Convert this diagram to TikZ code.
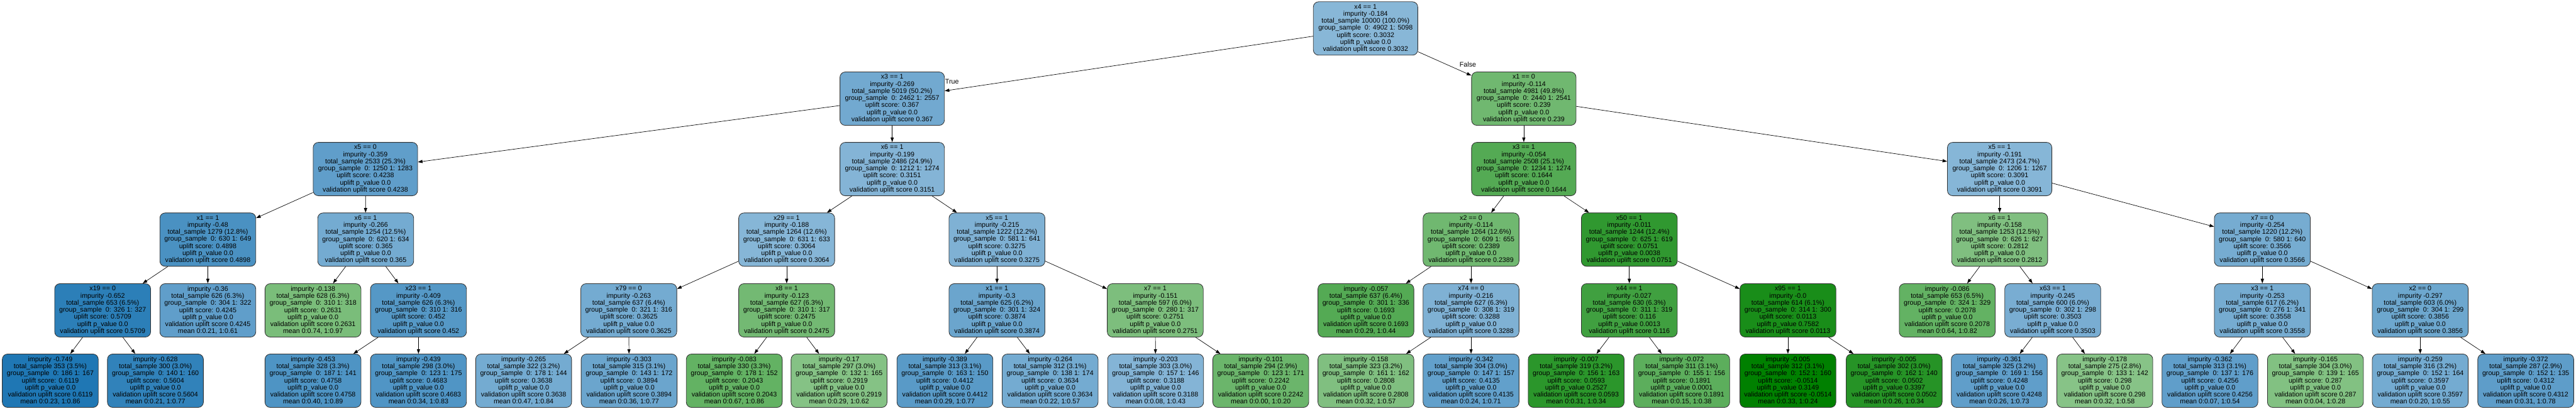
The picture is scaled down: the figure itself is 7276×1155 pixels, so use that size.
\documentclass[tikz,border=0pt]{standalone}
\usepackage{fontspec}
\setmainfont{Liberation Sans}
\usetikzlibrary{arrows.meta}
\definecolor{tb}{RGB}{31,119,180}
\definecolor{tg}{RGB}{0,128,0}
\newcommand\txI[7]{#1\\impurity #2\\total\_sample #3\\group\_sample~ 0: #4 1: #5\\uplift score: #6\\uplift p\_value #7\\validation uplift score #6}
\newcommand\txL[7]{impurity #1\\total\_sample #2\\group\_sample~ 0: #3 1: #4\\uplift score: #5\\uplift p\_value #6\\validation uplift score #5\\mean #7}
\tikzset{
  tn/.style={draw=black!80, line width=1.5pt, rounded corners=15pt, align=center,
    inner sep=2pt, minimum height=151pt, font=\fontsize{19}{20}\selectfont},
  wide/.style={tn, minimum width=295pt},
  narrow/.style={tn, minimum width=271pt},
  arr/.style={line width=1.2pt, -{Triangle[length=13pt,width=9pt]}},
  lbl/.style={font=\fontsize{19}{20}\selectfont, inner sep=0pt}
}
\begin{document}
\begin{tikzpicture}[x=1pt,y=-1pt]
\useasboundingbox[fill=white] (0,0) rectangle (7276,1155);
% level 0
\node[wide, fill=tb!53] (r) at (3857,80.5) {\txI{x4 == 1}{-0.184}{10000 (100.0\%)}{4902}{5098}{0.3032}{0.0}};
% level 1
\node[wide, fill=tb!63] (A) at (2520,279) {\txI{x3 == 1}{-0.269}{5019 (50.2\%)}{2462}{2557}{0.367}{0.0}};
\node[wide, fill=tg!56] (B) at (4304,279) {\txI{x1 == 0}{-0.114}{4981 (49.8\%)}{2440}{2541}{0.239}{0.0}};
% level 2
\node[wide, fill=tb!71] (AA) at (1032,478) {\txI{x5 == 0}{-0.359}{2533 (25.3\%)}{1250}{1283}{0.4238}{0.0}};
\node[wide, fill=tb!55] (AB) at (2520,478) {\txI{x6 == 1}{-0.199}{2486 (24.9\%)}{1212}{1274}{0.3151}{0.0}};
\node[wide, fill=tg!67] (BA) at (4304,478) {\txI{x3 == 1}{-0.054}{2508 (25.1\%)}{1234}{1274}{0.1644}{0.0}};
\node[wide, fill=tb!54] (BB) at (5648,478) {\txI{x5 == 1}{-0.191}{2473 (24.7\%)}{1206}{1267}{0.3091}{0.0}};
% level 3
\node[narrow, fill=tb!81] (AAA) at (587,677.5) {\txI{x1 == 1}{-0.48}{1279 (12.8\%)}{630}{649}{0.4898}{0.0}};
\node[narrow, fill=tb!62] (AAB) at (1033,677.5) {\txI{x6 == 1}{-0.266}{1254 (12.5\%)}{620}{634}{0.365}{0.0}};
\node[narrow, fill=tb!54] (ABA) at (2222,677.5) {\txI{x29 == 1}{-0.188}{1264 (12.6\%)}{631}{633}{0.3064}{0.0}};
\node[narrow, fill=tb!57] (ABB) at (2816,677.5) {\txI{x5 == 1}{-0.215}{1222 (12.2\%)}{581}{641}{0.3275}{0.0}};
\node[narrow, fill=tg!56] (BAA) at (4155,677.5) {\txI{x2 == 0}{-0.114}{1264 (12.6\%)}{609}{655}{0.2389}{0.0}};
\node[narrow, fill=tg!81] (BAB) at (4602,677.5) {\txI{x50 == 1}{-0.011}{1244 (12.4\%)}{625}{619}{0.0751}{0.0038}};
\node[narrow, fill=tg!50] (BBA) at (5648,677.5) {\txI{x6 == 1}{-0.158}{1253 (12.5\%)}{626}{627}{0.2812}{0.0}};
\node[narrow, fill=tb!61] (BBB) at (6390,677.5) {\txI{x7 == 0}{-0.254}{1220 (12.2\%)}{580}{640}{0.3566}{0.0}};
% level 4
\node[narrow, fill=tb!94] (c1) at (290,877.5) {\txI{x19 == 0}{-0.652}{653 (6.5\%)}{326}{327}{0.5709}{0.0}};
\node[narrow, fill=tb!71] (c2) at (587,877.5) {\txL{-0.36}{626 (6.3\%)}{304}{322}{0.4245}{0.0}{0:0.21, 1:0.61}};
\node[narrow, fill=tg!52] (c3) at (884,877.5) {\txL{-0.138}{628 (6.3\%)}{310}{318}{0.2631}{0.0}{0:0.74, 1:0.97}};
\node[narrow, fill=tb!76] (c4) at (1182,877.5) {\txI{x23 == 1}{-0.409}{626 (6.3\%)}{310}{316}{0.452}{0.0}};
\node[narrow, fill=tb!62] (c5) at (1776,877.5) {\txI{x79 == 0}{-0.263}{637 (6.4\%)}{321}{316}{0.3625}{0.0}};
\node[narrow, fill=tg!55] (c6) at (2222,877.5) {\txI{x8 == 1}{-0.123}{627 (6.3\%)}{310}{317}{0.2475}{0.0}};
\node[narrow, fill=tb!66] (c7) at (2816,877.5) {\txI{x1 == 1}{-0.3}{625 (6.2\%)}{301}{324}{0.3874}{0.0}};
\node[narrow, fill=tg!51] (c8) at (3263,877.5) {\txI{x7 == 1}{-0.151}{597 (6.0\%)}{280}{317}{0.2751}{0.0}};
\node[narrow, fill=tg!67] (c9) at (3858,877.5) {\txL{-0.057}{637 (6.4\%)}{301}{336}{0.1693}{0.0}{0:0.29, 1:0.44}};
\node[narrow, fill=tb!57] (c10) at (4155,877.5) {\txI{x74 == 0}{-0.216}{627 (6.3\%)}{308}{319}{0.3288}{0.0}};
\node[narrow, fill=tg!75] (c11) at (4602,877.5) {\txI{x44 == 1}{-0.027}{630 (6.3\%)}{311}{319}{0.116}{0.0013}};
\node[narrow, fill=tg!90] (c12) at (5050,877.5) {\txI{x95 == 1}{-0.0}{614 (6.1\%)}{314}{300}{0.0113}{0.7582}};
\node[narrow, fill=tg!61] (c13) at (5500,877.5) {\txL{-0.086}{653 (6.5\%)}{324}{329}{0.2078}{0.0}{0:0.64, 1:0.82}};
\node[narrow, fill=tb!60] (c14) at (5798,877.5) {\txI{x63 == 1}{-0.245}{600 (6.0\%)}{302}{298}{0.3503}{0.0}};
\node[narrow, fill=tb!61] (c15) at (6390,877.5) {\txI{x3 == 1}{-0.253}{617 (6.2\%)}{276}{341}{0.3558}{0.0}};
\node[narrow, fill=tb!65] (c16) at (6836,877.5) {\txI{x2 == 0}{-0.297}{603 (6.0\%)}{304}{299}{0.3856}{0.0}};
% level 5
\node[narrow, fill=tb!100] (d1) at (142,1076.5) {\txL{-0.749}{353 (3.5\%)}{186}{167}{0.6119}{0.0}{0:0.23, 1:0.86}};
\node[narrow, fill=tb!92] (d2) at (439,1076.5) {\txL{-0.628}{300 (3.0\%)}{140}{160}{0.5604}{0.0}{0:0.21, 1:0.77}};
\node[narrow, fill=tb!79] (d3) at (884,1076.5) {\txL{-0.453}{328 (3.3\%)}{187}{141}{0.4758}{0.0}{0:0.40, 1:0.89}};
\node[narrow, fill=tb!78] (d4) at (1182,1076.5) {\txL{-0.439}{298 (3.0\%)}{123}{175}{0.4683}{0.0}{0:0.34, 1:0.83}};
\node[narrow, fill=tb!62] (d5) at (1479,1076.5) {\txL{-0.265}{322 (3.2\%)}{178}{144}{0.3638}{0.0}{0:0.47, 1:0.84}};
\node[narrow, fill=tb!66] (d6) at (1777,1076.5) {\txL{-0.303}{315 (3.1\%)}{143}{172}{0.3894}{0.0}{0:0.36, 1:0.77}};
\node[narrow, fill=tg!61] (d7) at (2074,1076.5) {\txL{-0.083}{330 (3.3\%)}{178}{152}{0.2043}{0.0}{0:0.67, 1:0.86}};
\node[narrow, fill=tg!48] (d8) at (2370,1076.5) {\txL{-0.17}{297 (3.0\%)}{132}{165}{0.2919}{0.0}{0:0.29, 1:0.62}};
\node[narrow, fill=tb!74] (d9) at (2669,1076.5) {\txL{-0.389}{313 (3.1\%)}{163}{150}{0.4412}{0.0}{0:0.29, 1:0.77}};
\node[narrow, fill=tb!62] (d10) at (2966,1076.5) {\txL{-0.264}{312 (3.1\%)}{138}{174}{0.3634}{0.0}{0:0.22, 1:0.57}};
\node[narrow, fill=tb!55] (d11) at (3264,1076.5) {\txL{-0.203}{303 (3.0\%)}{157}{146}{0.3188}{0.0}{0:0.08, 1:0.43}};
\node[narrow, fill=tg!58] (d12) at (3561,1076.5) {\txL{-0.101}{294 (2.9\%)}{123}{171}{0.2242}{0.0}{0:0.00, 1:0.20}};
\node[narrow, fill=tg!50] (d13) at (3858,1076.5) {\txL{-0.158}{323 (3.2\%)}{161}{162}{0.2808}{0.0}{0:0.32, 1:0.57}};
\node[narrow, fill=tb!70] (d14) at (4155,1076.5) {\txL{-0.342}{304 (3.0\%)}{147}{157}{0.4135}{0.0}{0:0.24, 1:0.71}};
\node[narrow, fill=tg!83] (d15) at (4452,1076.5) {\txL{-0.007}{319 (3.2\%)}{156}{163}{0.0593}{0.2527}{0:0.31, 1:0.34}};
\node[narrow, fill=tg!64] (d16) at (4750,1076.5) {\txL{-0.072}{311 (3.1\%)}{155}{156}{0.1891}{0.0001}{0:0.15, 1:0.38}};
\node[narrow, fill=tg!100] (d17) at (5050,1076.5) {\txL{-0.005}{312 (3.1\%)}{152}{160}{-0.0514}{0.3149}{0:0.33, 1:0.24}};
\node[narrow, fill=tg!85] (d18) at (5350,1076.5) {\txL{-0.005}{302 (3.0\%)}{162}{140}{0.0502}{0.3397}{0:0.26, 1:0.34}};
\node[narrow, fill=tb!71] (d19) at (5647,1076.5) {\txL{-0.361}{325 (3.2\%)}{169}{156}{0.4248}{0.0}{0:0.26, 1:0.73}};
\node[narrow, fill=tg!47] (d20) at (5945,1076.5) {\txL{-0.178}{275 (2.8\%)}{133}{142}{0.298}{0.0}{0:0.32, 1:0.58}};
\node[narrow, fill=tb!71] (d21) at (6242,1076.5) {\txL{-0.362}{313 (3.1\%)}{137}{176}{0.4256}{0.0}{0:0.07, 1:0.54}};
\node[narrow, fill=tg!49] (d22) at (6540,1076.5) {\txL{-0.165}{304 (3.0\%)}{139}{165}{0.287}{0.0}{0:0.04, 1:0.28}};
\node[narrow, fill=tb!62] (d23) at (6836,1076.5) {\txL{-0.259}{316 (3.2\%)}{152}{164}{0.3597}{0.0}{0:0.20, 1:0.55}};
\node[narrow, fill=tb!72] (d24) at (7134,1076.5) {\txL{-0.372}{287 (2.9\%)}{152}{135}{0.4312}{0.0}{0:0.31, 1:0.78}};
% edges
\draw[arr] (r) -- (A);
\draw[arr] (r) -- (B);
\draw[arr] (A) -- (AA);
\draw[arr] (A) -- (AB);
\draw[arr] (B) -- (BA);
\draw[arr] (B) -- (BB);
\draw[arr] (AA) -- (AAA);
\draw[arr] (AA) -- (AAB);
\draw[arr] (AB) -- (ABA);
\draw[arr] (AB) -- (ABB);
\draw[arr] (BA) -- (BAA);
\draw[arr] (BA) -- (BAB);
\draw[arr] (BB) -- (BBA);
\draw[arr] (BB) -- (BBB);
\draw[arr] (AAA) -- (c1);
\draw[arr] (AAA) -- (c2);
\draw[arr] (AAB) -- (c3);
\draw[arr] (AAB) -- (c4);
\draw[arr] (ABA) -- (c5);
\draw[arr] (ABA) -- (c6);
\draw[arr] (ABB) -- (c7);
\draw[arr] (ABB) -- (c8);
\draw[arr] (BAA) -- (c9);
\draw[arr] (BAA) -- (c10);
\draw[arr] (BAB) -- (c11);
\draw[arr] (BAB) -- (c12);
\draw[arr] (BBA) -- (c13);
\draw[arr] (BBA) -- (c14);
\draw[arr] (BBB) -- (c15);
\draw[arr] (BBB) -- (c16);
\draw[arr] (c1) -- (d1);
\draw[arr] (c1) -- (d2);
\draw[arr] (c4) -- (d3);
\draw[arr] (c4) -- (d4);
\draw[arr] (c5) -- (d5);
\draw[arr] (c5) -- (d6);
\draw[arr] (c6) -- (d7);
\draw[arr] (c6) -- (d8);
\draw[arr] (c7) -- (d9);
\draw[arr] (c7) -- (d10);
\draw[arr] (c8) -- (d11);
\draw[arr] (c8) -- (d12);
\draw[arr] (c10) -- (d13);
\draw[arr] (c10) -- (d14);
\draw[arr] (c11) -- (d15);
\draw[arr] (c11) -- (d16);
\draw[arr] (c12) -- (d17);
\draw[arr] (c12) -- (d18);
\draw[arr] (c14) -- (d19);
\draw[arr] (c14) -- (d20);
\draw[arr] (c15) -- (d21);
\draw[arr] (c15) -- (d22);
\draw[arr] (c16) -- (d23);
\draw[arr] (c16) -- (d24);
% edge labels
\node[lbl] (tl) at (2689,230) {True};
\node[lbl] (fl) at (4146,182) {False};
\end{tikzpicture}
\end{document}
